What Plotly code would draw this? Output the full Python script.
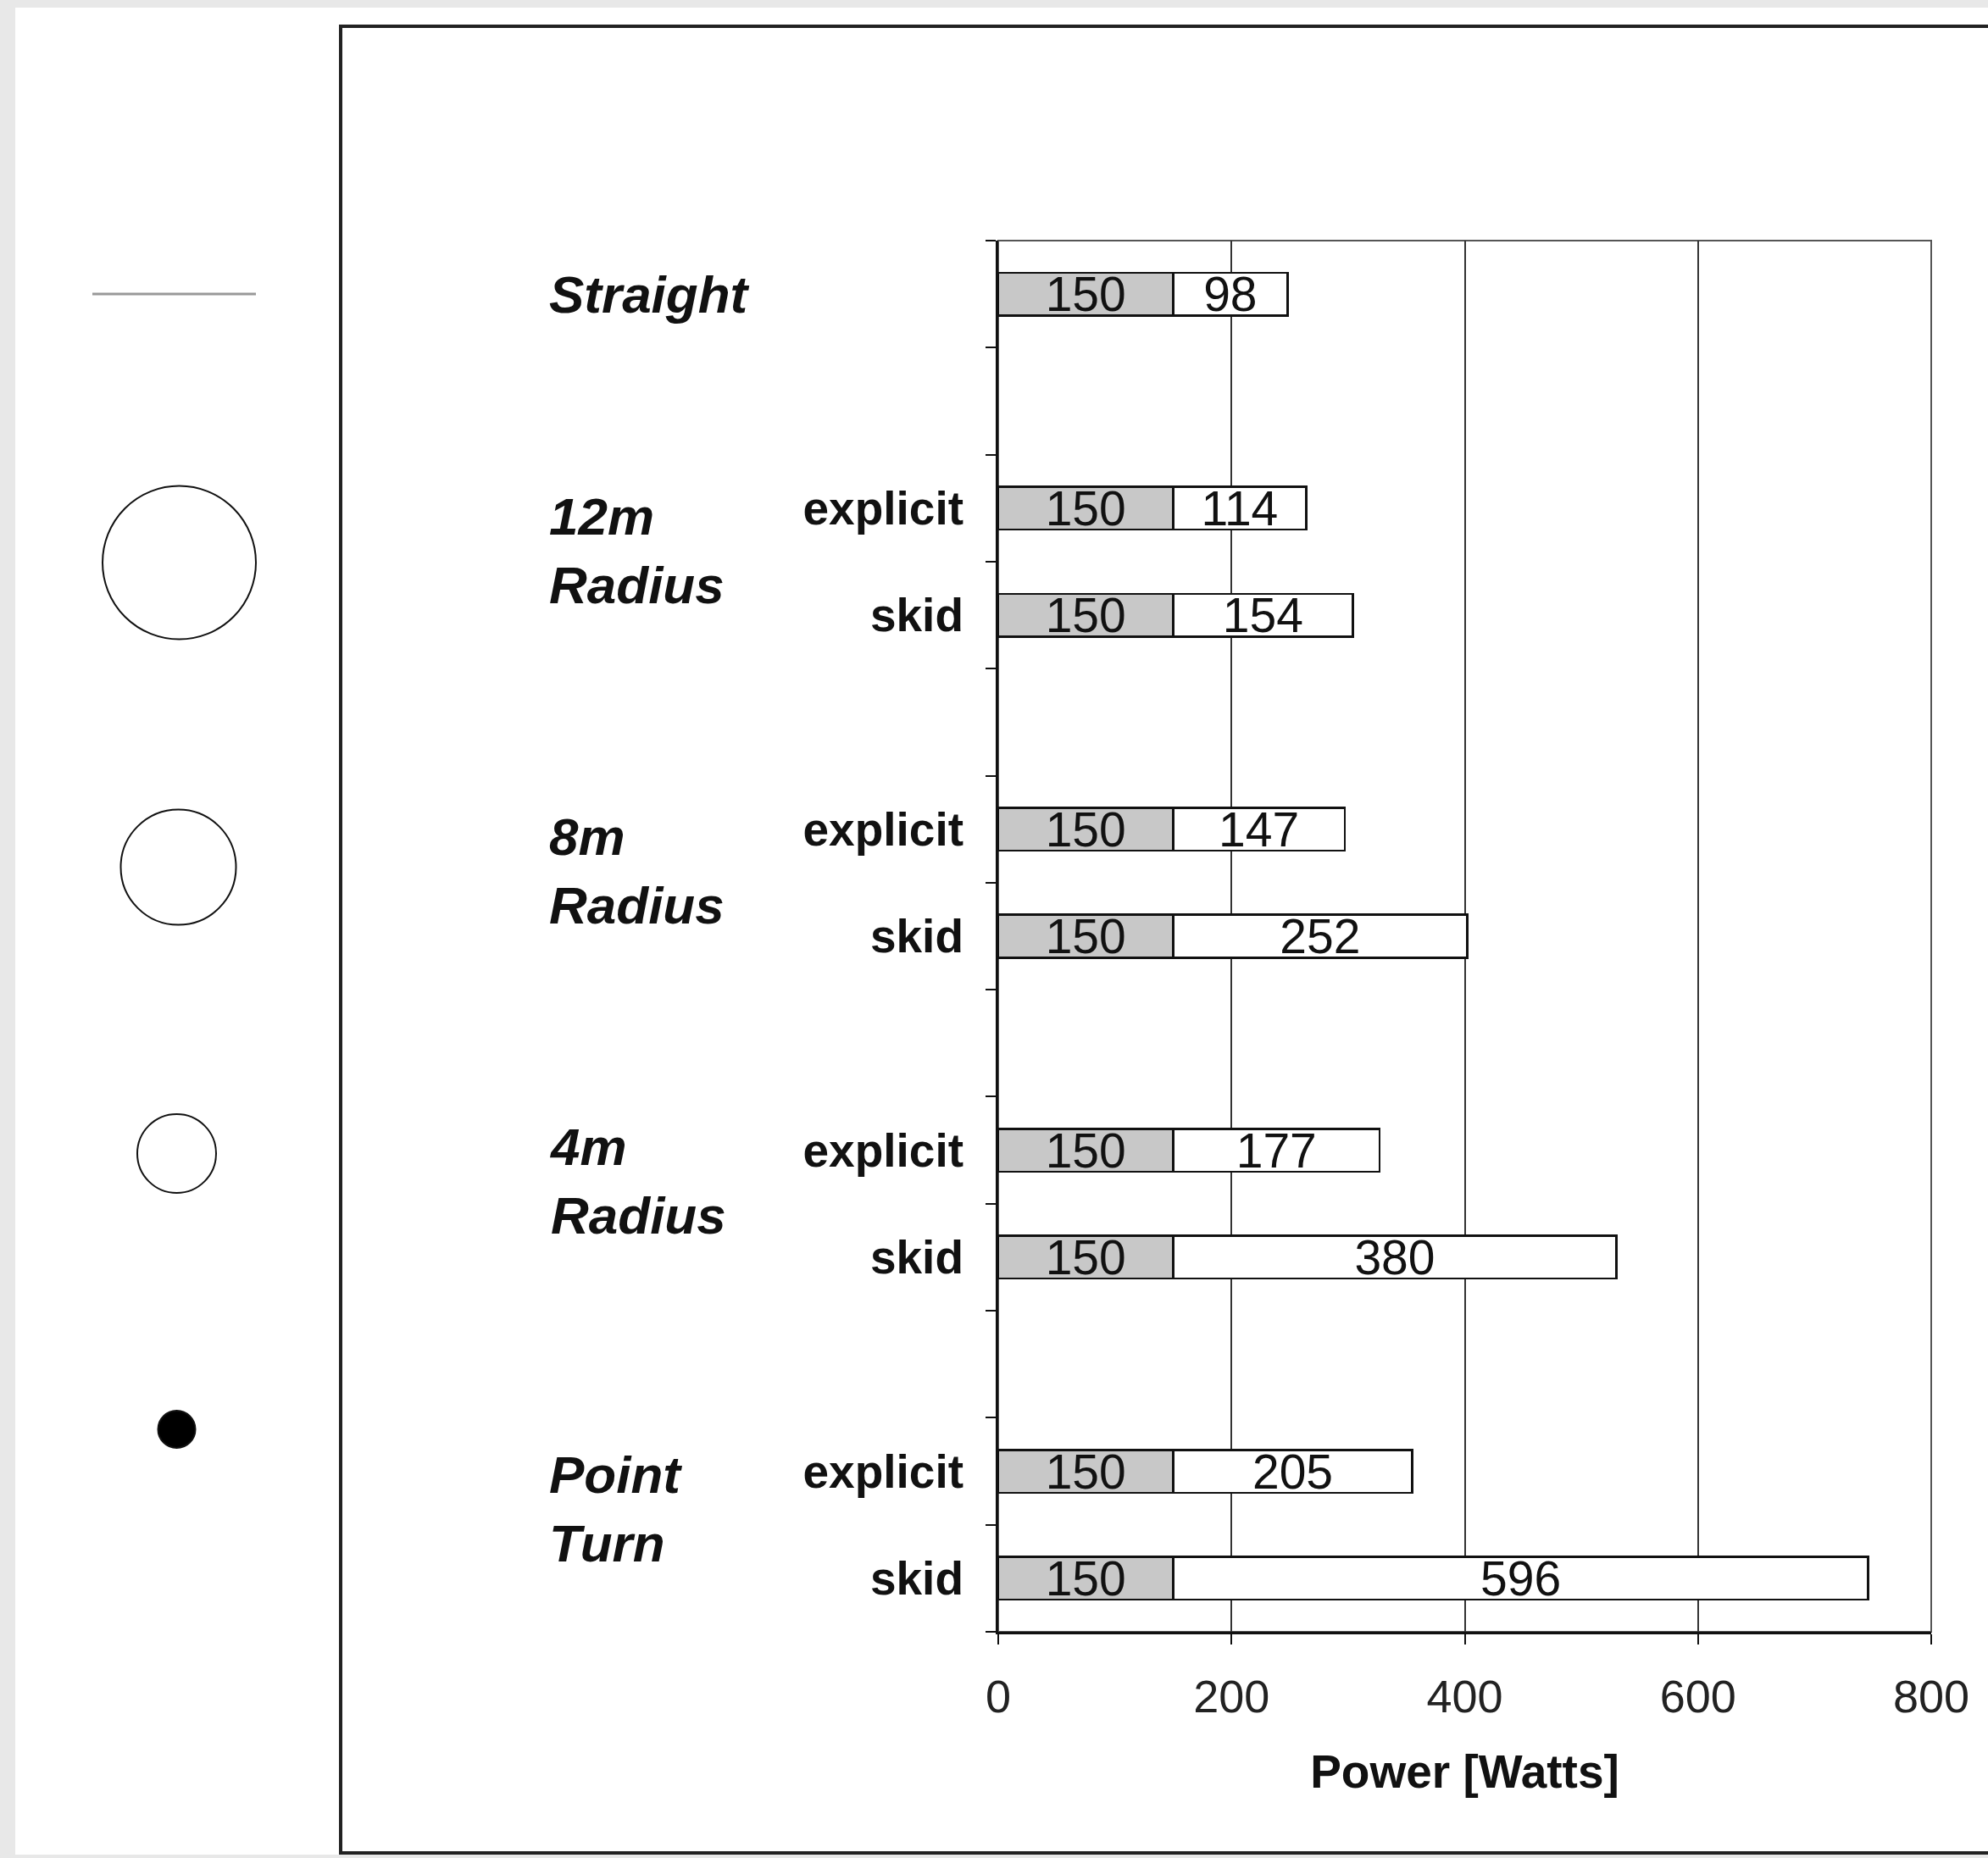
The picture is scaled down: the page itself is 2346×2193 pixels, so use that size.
import plotly.graph_objects as go

# ---------------- data ----------------
group_names = ["Straight", "12m<br>Radius", "8m<br>Radius", "4m<br>Radius", "Point<br>Turn"]
row_groups = ["Straight", "12m", "12m", "8m", "8m", "4m", "4m", "Point", "Point"]
row_modes = ["", "explicit", "skid", "explicit", "skid", "explicit", "skid", "explicit", "skid"]
base_power = [150, 150, 150, 150, 150, 150, 150, 150, 150]
extra_power = [98, 114, 154, 147, 252, 177, 380, 205, 596]
x_ticks = [0, 200, 400, 600, 800]

# category order on the y axis (blank spacer rows between groups)
row_ids = [f"{g} {m}".strip() for g, m in zip(row_groups, row_modes)]
category_order = [row_ids[0], " ", row_ids[1], row_ids[2], "  ", row_ids[3], row_ids[4],
                  "   ", row_ids[5], row_ids[6], "    ", row_ids[7], row_ids[8]]
label_map = dict(zip(row_ids, row_modes))
tick_text = [f"<b>{label_map[c]}</b>" if label_map.get(c) else "" for c in category_order]
group_label_pos = [0, 2.4, 5.39, 8.29, 11.35]

# ---------------- layout geometry ----------------
W, H = 2346, 2193
L, R, T, B = 1178, 2279, 284, 1926
FONT = "Liberation Sans, Arial, Helvetica, sans-serif"


def fx(px):
    return (px - L) / (R - L)


def fy(py):
    return (B - py) / (B - T)


fig = go.Figure()
fig.add_trace(go.Bar(
    y=row_ids, x=base_power, orientation="h", name="base",
    marker=dict(color="#c8c8c8", line=dict(color="#111", width=2.5)),
    text=[str(v) for v in base_power], textposition="inside", insidetextanchor="middle",
    textangle=0, constraintext="none",
    textfont=dict(family=FONT, size=57, color="#111"),
))
fig.add_trace(go.Bar(
    y=row_ids, x=extra_power, orientation="h", name="extra",
    marker=dict(color="#ffffff", line=dict(color="#111", width=2.5)),
    text=[str(v) for v in extra_power], textposition="inside", insidetextanchor="middle",
    textangle=0, constraintext="none",
    textfont=dict(family=FONT, size=57, color="#111"),
))

shapes = []
# white slide panel over grey background
shapes.append(dict(type="rect", xref="paper", yref="paper", x0=fx(18), x1=fx(W + 20),
                   y0=fy(2189), y1=fy(9), fillcolor="white", line=dict(width=0), layer="below"))
# outer frame
shapes.append(dict(type="rect", xref="paper", yref="paper", x0=fx(402), x1=fx(W + 40),
                   y0=fy(2187), y1=fy(31), fillcolor="rgba(0,0,0,0)",
                   line=dict(color="#222", width=4), layer="below"))
# plot area border (top / right)
shapes.append(dict(type="rect", xref="paper", yref="paper", x0=0, x1=1, y0=0, y1=1,
                   fillcolor="rgba(0,0,0,0)", line=dict(color="#555", width=2), layer="below"))
# decorative path icons on the left
shapes.append(dict(type="line", xref="paper", yref="paper", x0=fx(109), x1=fx(302),
                   y0=fy(347), y1=fy(347), line=dict(color="#999", width=3)))
for cx, cy, r, filled in [(211.5, 664, 90.5, False), (210.5, 1023.5, 68, False),
                          (208.5, 1361.5, 46.5, False), (208.5, 1687, 22, True)]:
    shapes.append(dict(type="circle", xref="paper", yref="paper",
                       x0=fx(cx - r), x1=fx(cx + r), y0=fy(cy + r), y1=fy(cy - r),
                       fillcolor="black" if filled else "rgba(0,0,0,0)",
                       line=dict(color="#111", width=2)))

annotations = []
for name, pos in zip(group_names, group_label_pos):
    annotations.append(dict(xref="paper", yref="y", x=fx(646), y=pos, xanchor="left",
                            yanchor="middle", align="left", showarrow=False,
                            text=f"<b><i>{name}</i></b>",
                            font=dict(family=FONT, size=62, color="#111")))

fig.update_layout(
    width=W, height=H, autosize=False,
    margin=dict(l=L, r=W - R, t=T, b=H - B, pad=0),
    paper_bgcolor="#e8e8e8", plot_bgcolor="white",
    barmode="stack", bargap=0.6, showlegend=False,
    shapes=shapes, annotations=annotations,
    font=dict(family=FONT, color="#111"),
    xaxis=dict(range=[0, 800], tickmode="array", tickvals=x_ticks,
               showgrid=True, gridcolor="#333", gridwidth=2, zeroline=False,
               showline=True, linecolor="#111", linewidth=3,
               ticks="outside", ticklen=12, tickwidth=2, tickcolor="#111",
               ticklabelstandoff=15,
               tickfont=dict(family=FONT, size=54, color="#222"),
               title=dict(text="<b>Power [Watts]</b>", standoff=41,
                          font=dict(family=FONT, size=55, color="#111"))),
    yaxis=dict(type="category", categoryorder="array", categoryarray=category_order,
               range=[12.5, -0.5], tickmode="array", tickvals=category_order,
               ticktext=tick_text, tickson="boundaries",
               showgrid=False, zeroline=False,
               showline=True, linecolor="#111", linewidth=3,
               ticks="outside", ticklen=12, tickwidth=2, tickcolor="#111",
               ticklabelstandoff=27,
               tickfont=dict(family=FONT, size=55, color="#111")),
)

fig.write_html("out.html", config={"displayModeBar": False},
               post_script="document.body.style.margin='0';document.body.style.overflow='hidden';")
